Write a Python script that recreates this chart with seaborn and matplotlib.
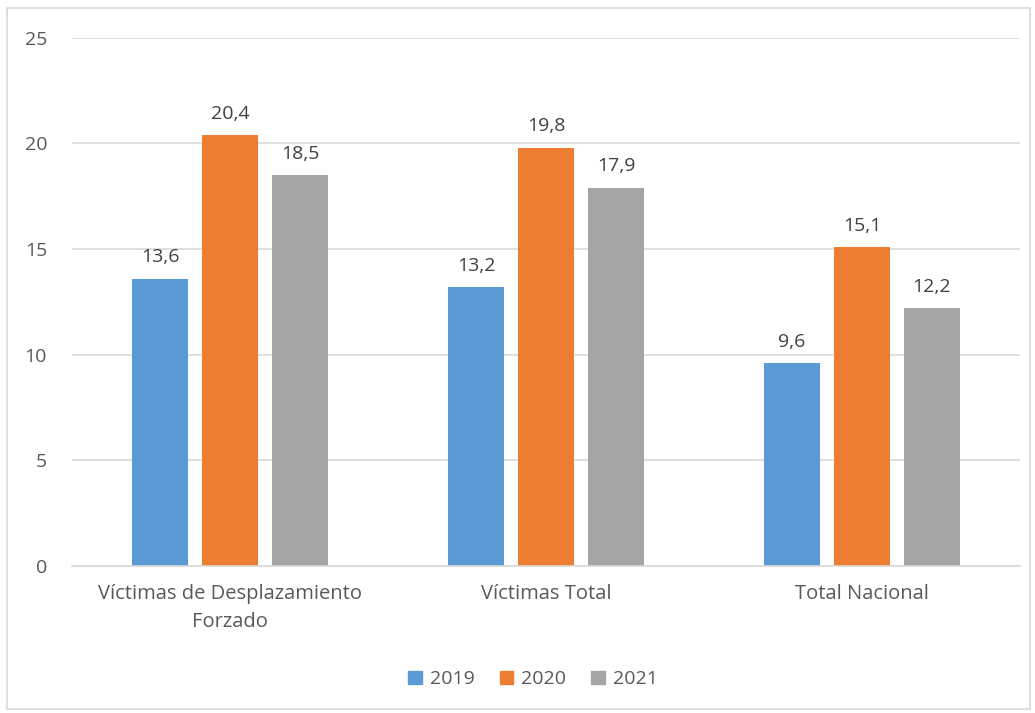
import matplotlib
matplotlib.use('Agg')
import matplotlib.pyplot as plt
import matplotlib.patches as mpatches
import seaborn as sns
import pandas as pd

categories = ['Víctimas de Desplazamiento\nForzado', 'Víctimas Total', 'Total Nacional']
years = ['2019', '2020', '2021']
values_2019 = [13.6, 13.2, 9.6]
values_2020 = [20.4, 19.8, 15.1]
values_2021 = [18.5, 17.9, 12.2]
colors = ['#5B9BD5', '#ED7D31', '#A5A5A5']
text_color = '#595959'

rows = []
for year, vals in zip(years, [values_2019, values_2020, values_2021]):
    for cat, v in zip(categories, vals):
        rows.append({'cat': cat, 'year': year, 'valor': v})
df = pd.DataFrame(rows)

sns.set_style('white')
plt.rcParams['font.family'] = ['Open Sans', 'DejaVu Sans']

fig = plt.figure(figsize=(10.35, 7.13), dpi=100)
ax = fig.add_axes([0.0696, 0.206, 0.9159, 0.741])

sns.barplot(data=df, x='cat', y='valor', hue='year', order=categories,
            hue_order=years, palette=colors, width=0.664, gap=0.21,
            saturation=1, linewidth=0, ax=ax, legend=False)

for cont in ax.containers:
    labels = [f'{b.get_height():.1f}'.replace('.', ',') for b in cont]
    ax.bar_label(cont, labels=labels, padding=9, fontsize=14, color='#404040')

ax.set_xlim(-0.5, 2.5)
ax.set_ylim(0, 25)
ax.set_yticks([0, 5, 10, 15, 20, 25])
ax.yaxis.grid(True, color='#d9d9d9', linewidth=1.2)
ax.set_axisbelow(True)
for s in ['top', 'right', 'left']:
    ax.spines[s].set_visible(False)
ax.spines['bottom'].set_color('#d9d9d9')
ax.spines['bottom'].set_linewidth(1.2)
ax.tick_params(axis='both', length=0, labelsize=14, colors=text_color)
ax.tick_params(axis='x', labelsize=14.5, pad=13)
ax.tick_params(axis='y', pad=18)
for lbl in ax.get_xticklabels():
    lbl.set_multialignment('center')
    lbl.set_linespacing(1.5)
ax.set_xlabel('')
ax.set_ylabel('')

handles = [mpatches.Patch(color=c, label=y) for c, y in zip(colors, years)]
fig.legend(handles=handles, loc='center', bbox_to_anchor=(0.515, 0.047), ncol=3,
           frameon=False, fontsize=14, handlelength=0.7, handleheight=0.7,
           handletextpad=0.4, columnspacing=1.3, labelcolor=text_color)

border = mpatches.Rectangle((0.007, 0.005), 0.988, 0.984, transform=fig.transFigure,
                            fill=False, edgecolor='#d9d9d9', linewidth=1.2)
fig.patches.append(border)

fig.savefig('out.png', dpi=100)
